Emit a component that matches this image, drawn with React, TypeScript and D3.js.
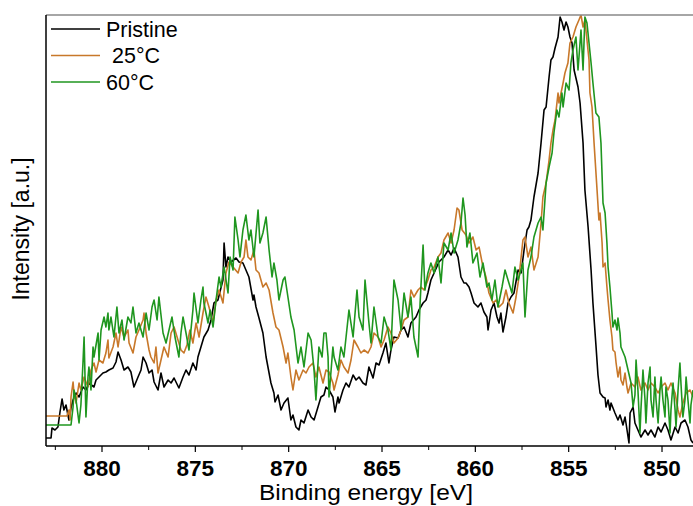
import React from "react";
import * as d3 from "d3";

// Binding energy (eV) and intensity (a.u.)
const pristine: [number, number][] = [
  [883.0, 8], [882.73, 8], [882.68, 18], [882.52, 16], [882.36, 19], [882.25, 34], [882.14, 47], [882.04, 36],
  [881.93, 41], [881.77, 26], [881.66, 38], [881.55, 46], [881.39, 53], [881.23, 49], [881.02, 59], [880.86, 56],
  [880.7, 63], [880.43, 59], [880.32, 66], [880.16, 69], [879.95, 73], [879.79, 74], [879.63, 76], [879.41, 78],
  [879.25, 84], [879.14, 94], [878.98, 86], [878.82, 76], [878.61, 79], [878.45, 74], [878.29, 59], [878.07, 69],
  [877.91, 76], [877.8, 89], [877.64, 83], [877.48, 73], [877.32, 76], [877.21, 64], [877.0, 56], [876.84, 73],
  [876.68, 59], [876.46, 66], [876.3, 63], [876.14, 68], [875.88, 58], [875.66, 69], [875.5, 76], [875.34, 71],
  [875.13, 83], [874.96, 76], [874.86, 89], [874.7, 99], [874.54, 109], [874.32, 116], [874.16, 126], [874.0, 143],
  [873.79, 146], [873.63, 158], [873.52, 166], [873.46, 203], [873.36, 179], [873.25, 189], [873.09, 184], [872.82, 188],
  [872.66, 184], [872.45, 183], [872.29, 176], [872.13, 169], [871.91, 146], [871.86, 151], [871.75, 139], [871.59, 128],
  [871.38, 113], [871.21, 89], [871.11, 79], [870.95, 63], [870.79, 53], [870.73, 44], [870.57, 51], [870.41, 36],
  [870.25, 43], [870.04, 48], [869.88, 26], [869.77, 31], [869.61, 19], [869.45, 16], [869.34, 26], [869.18, 23],
  [868.96, 36], [868.8, 29], [868.64, 26], [868.43, 39], [868.27, 49], [868.11, 51], [868.0, 59], [867.84, 56],
  [867.63, 49], [867.52, 34], [867.36, 49], [867.3, 43], [867.09, 56], [866.93, 63], [866.77, 59], [866.55, 71],
  [866.39, 66], [866.23, 69], [866.02, 63], [865.86, 61], [865.7, 79], [865.48, 68], [865.32, 83], [865.16, 81],
  [864.95, 93], [864.79, 103], [864.63, 83], [864.52, 96], [864.36, 109], [864.14, 108], [863.98, 116], [863.82, 119],
  [863.61, 109], [863.45, 123], [863.18, 129], [863.02, 136], [862.8, 143], [862.64, 146], [862.54, 153], [862.38, 166],
  [862.21, 173], [861.95, 184], [861.68, 189], [861.46, 196], [861.3, 191], [861.14, 198], [860.93, 189], [860.77, 169],
  [860.61, 163], [860.5, 163], [860.34, 159], [860.23, 153], [860.07, 143], [859.86, 139], [859.7, 143], [859.54, 134],
  [859.38, 129], [859.32, 116], [859.16, 136], [859.0, 143], [858.84, 129], [858.73, 123], [858.63, 133], [858.52, 114],
  [858.36, 129], [858.25, 143], [858.09, 149], [857.93, 153], [857.71, 176], [857.55, 173], [857.39, 196], [857.23, 216],
  [857.13, 219], [857.02, 226], [856.86, 249], [856.64, 273], [856.48, 303], [856.32, 336], [856.21, 339], [856.05, 369],
  [855.95, 386], [855.84, 389], [855.73, 398], [855.57, 409], [855.46, 429], [855.36, 424], [855.25, 416], [855.14, 424],
  [855.04, 419], [854.93, 409], [854.82, 403], [854.71, 376], [854.5, 359], [854.39, 343], [854.23, 303], [854.13, 256],
  [853.96, 219], [853.8, 176], [853.7, 143], [853.54, 101], [853.43, 71], [853.32, 53], [853.16, 49], [853.05, 48],
  [853.0, 39], [852.89, 46], [852.79, 36], [852.73, 43], [852.52, 33], [852.36, 26], [852.25, 31], [852.09, 21],
  [851.98, 29], [851.93, 23], [851.77, 3], [851.71, 33], [851.55, 39], [851.45, 23], [851.29, 16], [851.13, 9],
  [850.91, 16], [850.75, 11], [850.59, 16], [850.38, 9], [850.21, 19], [850.05, 14], [849.84, 23], [849.68, 16],
  [849.52, 6], [849.3, 19], [849.14, 13], [848.98, 23], [848.77, 26], [848.61, 19], [848.45, 6], [848.34, 3],
];

const t25: [number, number][] = [
  [883.0, 30], [881.88, 30], [881.77, 36], [881.71, 26], [881.66, 49], [881.55, 64], [881.5, 53], [881.39, 43],
  [881.23, 63], [881.13, 56], [880.96, 69], [880.75, 59], [880.59, 76], [880.43, 83], [880.32, 74], [880.16, 86],
  [879.95, 83], [879.79, 93], [879.68, 106], [879.63, 88], [879.41, 99], [879.25, 113], [879.14, 99], [878.98, 119],
  [878.82, 109], [878.61, 116], [878.55, 103], [878.34, 93], [878.18, 109], [878.02, 116], [877.8, 126], [877.75, 133],
  [877.64, 113], [877.48, 96], [877.38, 89], [877.21, 83], [877.11, 99], [877.0, 73], [876.84, 86], [876.68, 99],
  [876.46, 89], [876.3, 113], [876.14, 119], [875.93, 106], [875.77, 96], [875.61, 93], [875.45, 101], [875.29, 116],
  [875.13, 103], [874.96, 123], [874.8, 109], [874.59, 133], [874.43, 149], [874.27, 139], [874.05, 123], [873.89, 146],
  [873.73, 156], [873.52, 143], [873.36, 173], [873.2, 184], [872.98, 179], [872.71, 173], [872.55, 184], [872.39, 189],
  [872.29, 206], [872.18, 189], [872.02, 186], [871.86, 196], [871.75, 176], [871.59, 173], [871.38, 159], [871.21, 163],
  [871.05, 156], [870.84, 133], [870.68, 119], [870.52, 116], [870.3, 99], [870.14, 83], [870.04, 93], [869.88, 69],
  [869.77, 56], [869.61, 76], [869.45, 66], [869.23, 76], [869.07, 73], [868.91, 79], [868.7, 83], [868.54, 69],
  [868.38, 79], [868.16, 63], [868.0, 76], [867.84, 74], [867.63, 63], [867.57, 56], [867.36, 71], [867.2, 86],
  [867.04, 79], [866.82, 73], [866.66, 86], [866.5, 106], [866.29, 99], [866.13, 93], [865.96, 96], [865.75, 93],
  [865.59, 99], [865.43, 113], [865.21, 109], [865.05, 99], [864.89, 106], [864.68, 119], [864.52, 113], [864.36, 103],
  [864.14, 108], [863.98, 116], [863.82, 126], [863.61, 129], [863.45, 156], [863.29, 149], [863.07, 156], [862.91, 159],
  [862.75, 156], [862.54, 166], [862.38, 176], [862.21, 179], [862.0, 189], [861.84, 193], [861.68, 206], [861.46, 213],
  [861.3, 203], [861.14, 216], [860.98, 238], [860.88, 236], [860.71, 216], [860.5, 211], [860.34, 203], [860.13, 209],
  [859.96, 196], [859.8, 199], [859.59, 179], [859.43, 169], [859.27, 153], [859.05, 143], [858.89, 146], [858.73, 139],
  [858.52, 143], [858.36, 156], [858.2, 143], [857.98, 133], [857.82, 149], [857.66, 169], [857.45, 206], [857.34, 209],
  [857.18, 189], [857.02, 199], [856.86, 176], [856.64, 189], [856.48, 223], [856.38, 249], [856.21, 263], [856.05, 286],
  [855.95, 303], [855.84, 316], [855.73, 326], [855.57, 353], [855.52, 343], [855.3, 363], [855.2, 373], [855.04, 383],
  [854.93, 403], [854.77, 409], [854.61, 419], [854.45, 426], [854.34, 431], [854.23, 419], [854.13, 426], [854.02, 406],
  [853.91, 386], [853.86, 353], [853.75, 339], [853.64, 303], [853.48, 256], [853.38, 226], [853.32, 233], [853.21, 203],
  [853.16, 179], [853.05, 183], [852.95, 159], [852.89, 146], [852.79, 126], [852.68, 109], [852.63, 96], [852.52, 94],
  [852.46, 83], [852.36, 69], [852.25, 79], [852.2, 66], [852.09, 61], [851.98, 73], [851.88, 59], [851.82, 53],
  [851.66, 63], [851.45, 59], [851.29, 69], [851.13, 56], [850.91, 63], [850.75, 56], [850.59, 63], [850.38, 59],
  [850.21, 53], [850.05, 59], [849.84, 63], [849.68, 56], [849.52, 63], [849.3, 53], [849.14, 36], [849.04, 29],
  [848.88, 43], [848.71, 53], [848.5, 56], [848.34, 49],
];

const t60: [number, number][] = [
  [883.0, 21], [881.66, 21], [881.55, 39], [881.5, 56], [881.39, 46], [881.23, 23], [881.13, 41], [881.02, 83],
  [880.96, 109], [880.86, 29], [880.75, 69], [880.7, 79], [880.59, 56], [880.48, 99], [880.43, 89], [880.21, 113],
  [880.16, 86], [880.05, 116], [879.89, 129], [879.79, 119], [879.68, 133], [879.63, 116], [879.52, 129], [879.36, 109],
  [879.2, 139], [879.09, 113], [878.93, 126], [878.82, 106], [878.61, 129], [878.45, 123], [878.34, 139], [878.18, 113],
  [878.02, 123], [877.8, 109], [877.64, 133], [877.48, 116], [877.32, 139], [877.21, 146], [877.05, 126], [876.95, 149],
  [876.73, 113], [876.57, 103], [876.41, 116], [876.25, 129], [876.09, 109], [875.88, 89], [875.77, 113], [875.66, 129],
  [875.5, 113], [875.34, 96], [875.13, 136], [875.07, 153], [874.86, 123], [874.7, 146], [874.59, 159], [874.54, 143],
  [874.32, 123], [874.21, 136], [874.05, 119], [873.89, 146], [873.73, 169], [873.63, 159], [873.46, 179], [873.25, 153],
  [873.14, 189], [872.98, 176], [872.88, 229], [872.71, 206], [872.61, 189], [872.45, 216], [872.29, 231], [872.13, 206],
  [872.02, 216], [871.86, 189], [871.64, 236], [871.54, 203], [871.38, 213], [871.21, 229], [871.05, 196], [870.89, 169],
  [870.79, 183], [870.63, 166], [870.52, 146], [870.3, 166], [870.2, 169], [870.04, 149], [869.88, 129], [869.71, 116],
  [869.5, 83], [869.34, 99], [869.18, 79], [868.96, 113], [868.8, 106], [868.64, 76], [868.54, 46], [868.38, 99],
  [868.21, 89], [868.11, 113], [868.0, 113], [867.89, 89], [867.84, 49], [867.63, 99], [867.57, 89], [867.36, 76],
  [867.2, 99], [867.04, 89], [866.77, 136], [866.55, 109], [866.34, 156], [866.23, 129], [866.02, 116], [865.91, 166],
  [865.7, 123], [865.59, 103], [865.43, 139], [865.21, 109], [865.05, 103], [864.89, 129], [864.68, 116], [864.52, 96],
  [864.36, 166], [864.14, 146], [863.98, 116], [863.82, 153], [863.61, 129], [863.45, 149], [863.29, 109], [863.07, 89],
  [862.96, 143], [862.8, 201], [862.7, 156], [862.54, 173], [862.38, 183], [862.21, 173], [862.0, 189], [861.84, 163],
  [861.68, 203], [861.46, 196], [861.3, 213], [861.14, 193], [860.93, 206], [860.77, 223], [860.66, 248], [860.55, 231],
  [860.45, 199], [860.29, 213], [860.13, 183], [859.91, 193], [859.75, 169], [859.59, 183], [859.38, 159], [859.27, 163],
  [859.11, 146], [858.95, 166], [858.79, 139], [858.57, 159], [858.41, 176], [858.25, 166], [858.04, 153], [857.88, 179],
  [857.71, 166], [857.45, 183], [857.34, 129], [857.18, 176], [857.02, 189], [856.86, 209], [856.64, 223], [856.48, 229],
  [856.38, 216], [856.21, 263], [856.05, 279], [855.89, 293], [855.79, 313], [855.63, 336], [855.52, 329], [855.36, 353],
  [855.3, 339], [855.14, 363], [854.98, 356], [854.88, 383], [854.77, 396], [854.61, 409], [854.5, 376], [854.34, 416],
  [854.23, 376], [854.13, 429], [854.02, 423], [853.91, 403], [853.8, 383], [853.7, 363], [853.54, 333], [853.38, 329],
  [853.27, 303], [853.16, 243], [853.05, 233], [852.95, 203], [852.89, 179], [852.79, 159], [852.68, 133], [852.63, 119],
  [852.52, 126], [852.41, 116], [852.36, 128], [852.25, 113], [852.2, 99], [851.98, 89], [851.82, 76], [851.66, 63],
  [851.55, 39], [851.45, 51], [851.39, 86], [851.29, 56], [851.18, 13], [851.13, 36], [851.02, 76], [850.91, 46],
  [850.86, 23], [850.75, 63], [850.64, 79], [850.59, 46], [850.48, 29], [850.38, 69], [850.32, 46], [850.21, 23],
  [850.11, 56], [850.05, 69], [849.95, 46], [849.84, 29], [849.79, 59], [849.68, 46], [849.57, 13], [849.52, 36],
  [849.41, 63], [849.3, 36], [849.25, 19], [849.14, 56], [849.04, 83], [848.98, 61], [848.88, 29], [848.77, 46],
  [848.71, 69], [848.61, 46], [848.5, 23], [848.45, 41], [848.34, 56],
];

const seriesNames = ["Pristine", " 25°C", "60°C"];
const seriesColors = ["#000000", "#c8782a", "#1f961f"];
const seriesData = [pristine, t25, t60];
const majorTicks = [880, 875, 870, 865, 860, 855, 850];
const minorTicks = [882.5, 877.5, 872.5, 867.5, 862.5, 857.5, 852.5];

const W = 693;
const H = 506;
const left = 46;
const top = 15;
const bottom = 446;

export default function App() {
  const x = d3.scaleLinear().domain([883, 848]).range([left, left + 35 * 18.667]);
  const y = d3.scaleLinear().domain([0, 431]).range([bottom, top]);
  const line = d3
    .line<[number, number]>()
    .x((d) => x(d[0]))
    .y((d) => y(d[1]));
  const font = "'Liberation Sans', Arial, sans-serif";
  const right = W + 10;

  return (
    <svg
      width={W}
      height={H}
      style={{ position: "absolute", left: 0, top: 0, background: "#fff" }}
      fontFamily={font}
    >
      <defs>
        <clipPath id="plotClip">
          <rect x={left} y={top} width={right - left} height={bottom - top} />
        </clipPath>
      </defs>
      <rect x={0} y={0} width={W} height={H} fill="#fff" />
      <g clipPath="url(#plotClip)">
        {seriesData.map((s, i) => (
          <path key={i} d={line(s) || ""} fill="none" stroke={seriesColors[i]} strokeWidth={1.6} strokeLinejoin="round" />
        ))}
      </g>
      {/* frame */}
      <line x1={left} x2={right} y1={top} y2={top} stroke="#888" strokeWidth={1.5} />
      <line x1={left} x2={left} y1={top} y2={bottom} stroke="#000" strokeWidth={1.5} />
      <line x1={left} x2={right} y1={bottom} y2={bottom} stroke="#000" strokeWidth={1.5} />
      {majorTicks.map((t) => (
        <g key={t}>
          <line x1={x(t)} x2={x(t)} y1={bottom} y2={bottom + 6} stroke="#000" strokeWidth={1.2} />
          <text x={x(t)} y={475.5} textAnchor="middle" fontSize={22.5} fontWeight="bold" fill="#000">
            {t}
          </text>
        </g>
      ))}
      {minorTicks.map((t) => (
        <line key={t} x1={x(t)} x2={x(t)} y1={bottom} y2={bottom + 4} stroke="#000" strokeWidth={1} />
      ))}
      <text x={366} y={500} textAnchor="middle" fontSize={22} fill="#000" textLength={214} lengthAdjust="spacingAndGlyphs">
        Binding energy [eV]
      </text>
      <text transform={`translate(29,229) rotate(-90)`} textAnchor="middle" fontSize={23} fill="#000">
        Intensity [a.u.]
      </text>
      {/* legend */}
      {seriesNames.map((n, i) => (
        <g key={n}>
          <line x1={51} x2={100} y1={29 + i * 26.5} y2={29 + i * 26.5} stroke={seriesColors[i]} strokeWidth={1.6} />
          <text x={106} y={36.5 + i * 26.8} fontSize={21.5} fill="#000" style={{ whiteSpace: "pre" }}>
            {n}
          </text>
        </g>
      ))}
    </svg>
  );
}
